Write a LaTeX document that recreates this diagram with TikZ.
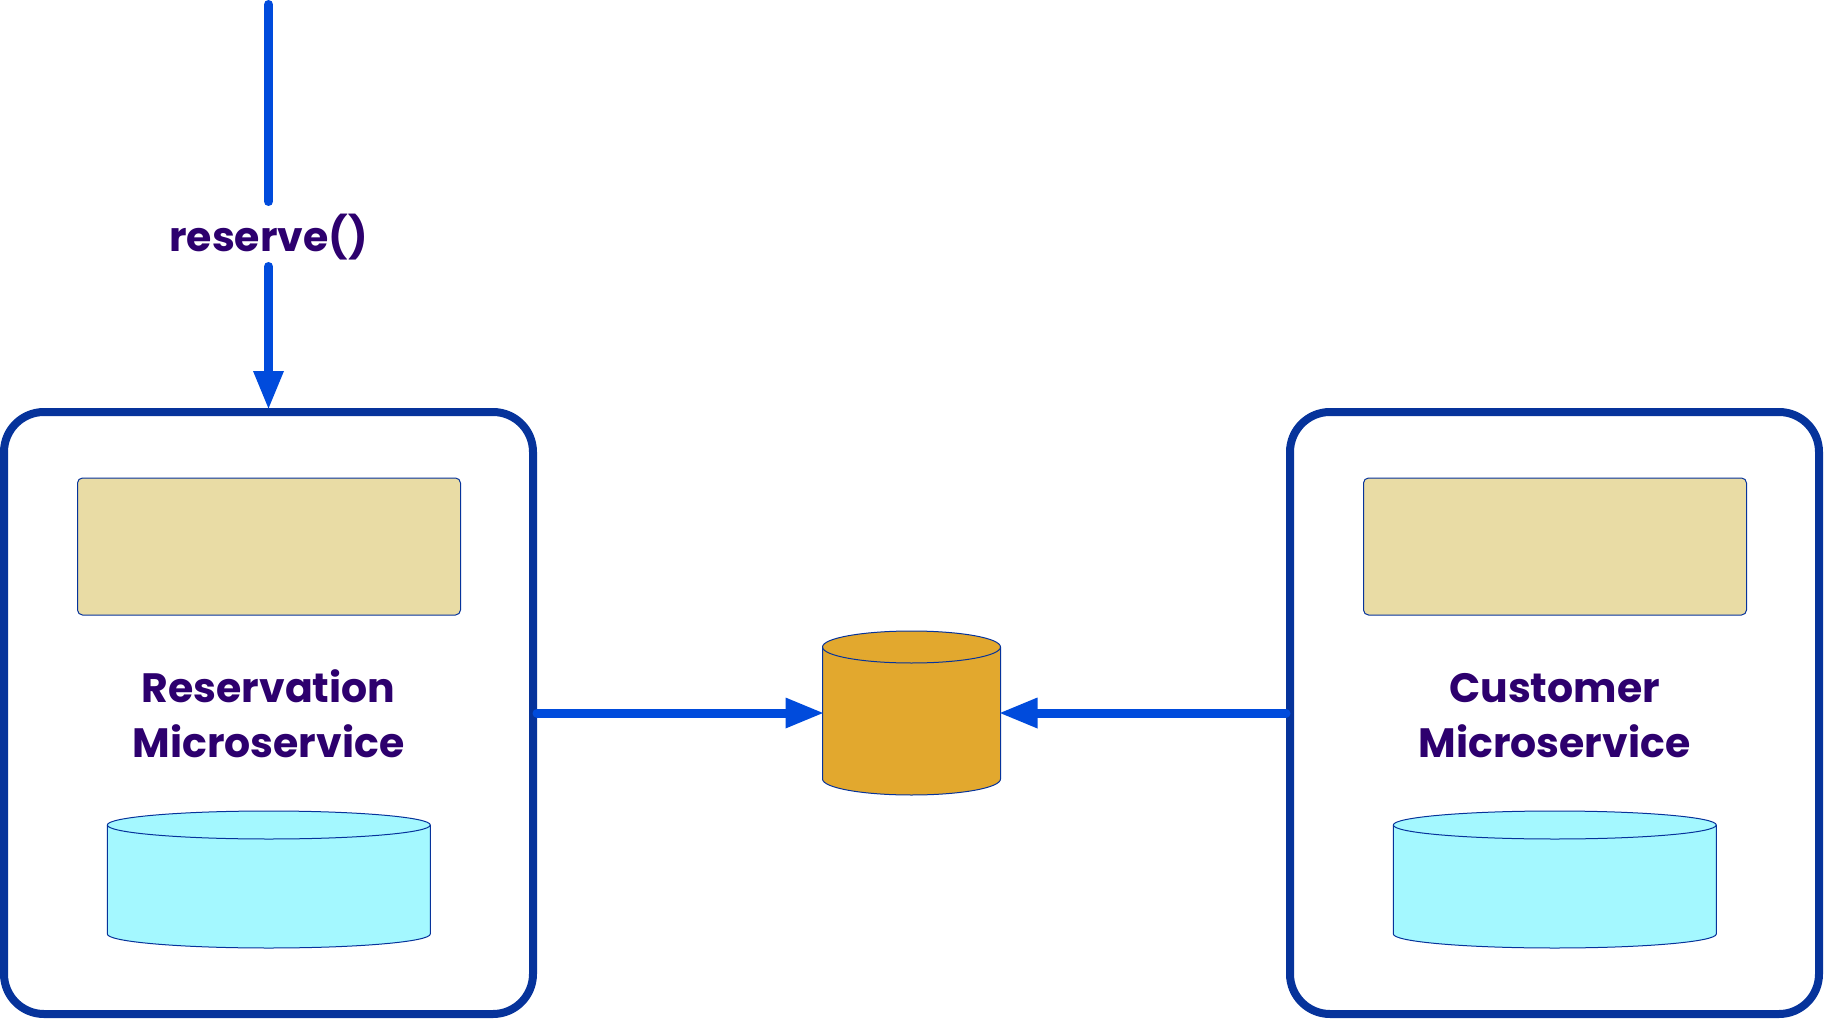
\documentclass[tikz,border=0pt]{standalone}
\usepackage{fontspec}
\setmainfont{Poppins}
\usetikzlibrary{arrows.meta}
\definecolor{boxblue}{HTML}{06339B}
\definecolor{flowblue}{HTML}{004BDC}
\definecolor{labelink}{HTML}{2D006E}
\definecolor{logictan}{HTML}{E9DCA5}
\definecolor{storecyan}{HTML}{A4F8FF}
\definecolor{sharedgold}{HTML}{E2A82E}
\tikzset{
  service/.style={draw=boxblue,line width=8pt,rounded corners=40pt,minimum width=529pt,minimum height=602pt,inner sep=0pt,outer sep=4pt},
  logic/.style={draw=boxblue,line width=1pt,fill=logictan,rounded corners=5pt,minimum width=383pt,minimum height=137pt,inner sep=0pt},
  drumframe/.style={inner sep=0pt,outer sep=0pt},
  drumline/.style={draw=boxblue,line width=1pt},
  caption/.style={text=labelink,font=\fontsize{41pt}{55pt}\selectfont\bfseries,align=center,inner sep=0pt},
  flow/.style={draw=flowblue,line width=9pt,line cap=round},
  flowhead/.style={flow,shorten >=-2pt,-{Triangle[length=39pt,width=28pt]}},
}
\NewDocumentCommand{\drum}{mmmmmm}{%
\node[drumframe,minimum width=#3pt,minimum height=#4pt] (#1) at #2 {};%
\draw[drumline,fill=#6] ([yshift=-#5pt]#1.north west) -- ([yshift=#5pt]#1.south west)
  arc[start angle=180,end angle=0,x radius=#3/2,y radius=#5]
  -- ([yshift=-#5pt]#1.north east)
  arc[start angle=0,end angle=-180,x radius=#3/2,y radius=#5] -- cycle;%
\draw[drumline] ([yshift=-#5pt]#1.north west)
  arc[start angle=180,end angle=0,x radius=#3/2,y radius=#5];%
}
\NewDocumentCommand{\microservice}{mmm}{%
\begin{scope}[shift={(#2,0)}]%
\node[service] (box#1) at (268.5,713) {};%
\node[logic] (logic#1) at (269,546.5) {};%
\node[caption] (name#1) at (268.5,714) {\vphantom{Ri}#3\\Microservice};%
\drum{store#1}{(268.8,879.5)}{323}{137}{14}{storecyan}%
\end{scope}%
}

\begin{document}
\begin{tikzpicture}[x=1pt,y=-1pt]
            \useasboundingbox (0,0) rectangle (1824,1019);
            \microservice{A}{0}{Reservation}
            \microservice{B}{1286}{Customer}

            \drum{shared}{(911.5,713)}{178}{164}{16}{sharedgold}

            \coordinate (entry) at (268.5,4.5);
            \node[text=labelink,font=\fontsize{41pt}{46pt}\selectfont\bfseries,inner sep=0pt,minimum height=65pt,outer sep=0pt,text depth=0pt] (call) at (268.5,234) {\raisebox{2pt}{reserve()}};

            \draw[flow] (entry) -- (call);
            \draw[flowhead] (call) -- (boxA.north);
            \draw[flowhead] (boxA.east) -- (shared.west);
            \draw[flowhead] (boxB.west) -- (shared.east);
        \end{tikzpicture}
\end{document}
